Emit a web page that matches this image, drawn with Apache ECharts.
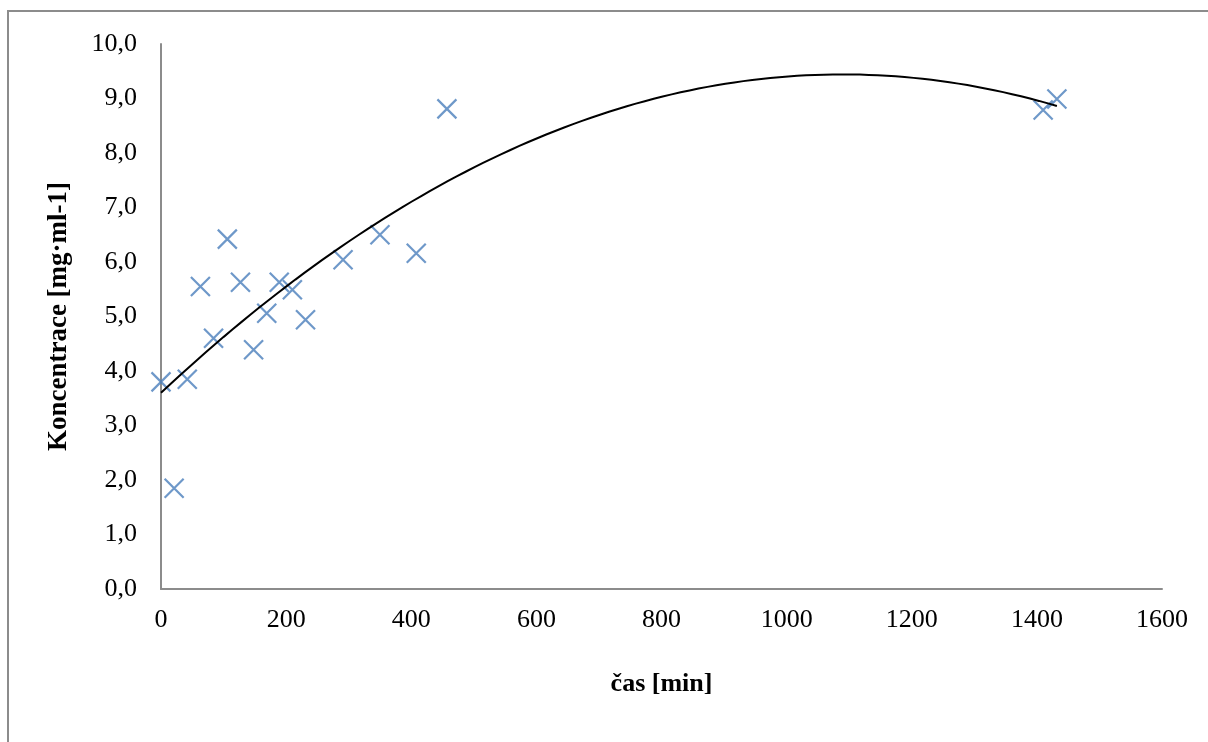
<!DOCTYPE html>
<html>
<head>
<meta charset="utf-8">
<script src="https://cdn.jsdelivr.net/npm/echarts@6/dist/echarts.min.js"></script>
<style>
  html, body { margin: 0; padding: 0; background: #fff; }
  #chart { width: 1208px; height: 742px; }
</style>
</head>
<body>
<div id="chart"></div>
<script>
// measured points: time [min] and concentration [mg/ml]
var times = [0, 21, 42, 63, 84, 106, 127, 148, 169, 189, 210, 231, 291, 350, 408, 457, 1410, 1432];
var conc = [3.80, 1.85, 3.85, 5.55, 4.60, 6.42, 5.63, 4.39, 5.06, 5.63, 5.49, 4.94, 6.04, 6.50, 6.16, 8.81, 8.79, 8.99];

var font = '"Liberation Serif", "Times New Roman", serif';

// polynomial (2nd order) trendline, least squares like Excel
function polyFit(xs, ys) {
  var n = xs.length, s = [0, 0, 0, 0, 0], t = [0, 0, 0];
  for (var i = 0; i < n; i++) {
    var p = 1;
    for (var k = 0; k <= 4; k++) {
      s[k] += p;
      if (k <= 2) t[k] += p * ys[i];
      p *= xs[i];
    }
  }
  var m = [[s[0], s[1], s[2], t[0]], [s[1], s[2], s[3], t[1]], [s[2], s[3], s[4], t[2]]];
  for (var c = 0; c < 3; c++) {
    for (var r = c + 1; r < 3; r++) {
      var f = m[r][c] / m[c][c];
      for (var j = c; j < 4; j++) m[r][j] -= f * m[c][j];
    }
  }
  var b = [0, 0, 0];
  for (var r2 = 2; r2 >= 0; r2--) {
    var v = m[r2][3];
    for (var j2 = r2 + 1; j2 < 3; j2++) v -= m[r2][j2] * b[j2];
    b[r2] = v / m[r2][r2];
  }
  return b;
}

var coef = polyFit(times, conc);
var xMin = Math.min.apply(null, times), xMax = Math.max.apply(null, times);
var trend = [];
for (var i = 0; i <= 100; i++) {
  var x = xMin + (xMax - xMin) * i / 100;
  trend.push([x, coef[0] + coef[1] * x + coef[2] * x * x]);
}

var chart = echarts.init(document.getElementById('chart'));
chart.setOption({
  animation: false,
  backgroundColor: '#fff',
  graphic: [{
    type: 'rect',
    shape: { x: 8, y: 11, width: 1220, height: 750 },
    style: { fill: 'none', stroke: '#8c8c8c', lineWidth: 2 },
    silent: true
  }],
  grid: { left: 161, right: 46, top: 44, bottom: 153 },
  xAxis: {
    type: 'value',
    min: 0, max: 1600, interval: 200,
    name: 'čas [min]',
    nameLocation: 'middle',
    nameGap: 82,
    nameTextStyle: { fontFamily: font, fontSize: 26, fontWeight: 'bold', color: '#000' },
    axisLine: { lineStyle: { color: '#8c8c8c', width: 2 } },
    axisTick: { show: false },
    splitLine: { show: false },
    axisLabel: {
      fontFamily: font, fontSize: 26, color: '#000', margin: 18,
      formatter: function (v) { return String(v); }
    }
  },
  yAxis: {
    type: 'value',
    min: 0, max: 10, interval: 1,
    name: 'Koncentrace [mg·ml-1]',
    nameLocation: 'middle',
    nameGap: 88,
    nameTextStyle: { fontFamily: font, fontSize: 27, fontWeight: 'bold', color: '#000' },
    axisLine: { show: true, lineStyle: { color: '#8c8c8c', width: 2 } },
    axisTick: { show: false },
    splitLine: { show: false },
    axisLabel: {
      fontFamily: font, fontSize: 26, color: '#000', margin: 24,
      formatter: function (v) { return v.toFixed(1).replace('.', ','); }
    }
  },
  series: [{
    type: 'scatter',
    data: times.map(function (t, i) { return [t, conc[i]]; }),
    symbol: 'path://M0,0L10,10M10,0L0,10',
    symbolSize: 19,
    itemStyle: { color: 'rgba(0,0,0,0)', borderColor: '#4a7ebb', borderWidth: 2.2 },
    z: 2
  }, {
    type: 'line',
    data: trend,
    showSymbol: false,
    lineStyle: { color: '#000', width: 2 },
    z: 3
  }]
});
</script>
</body>
</html>
